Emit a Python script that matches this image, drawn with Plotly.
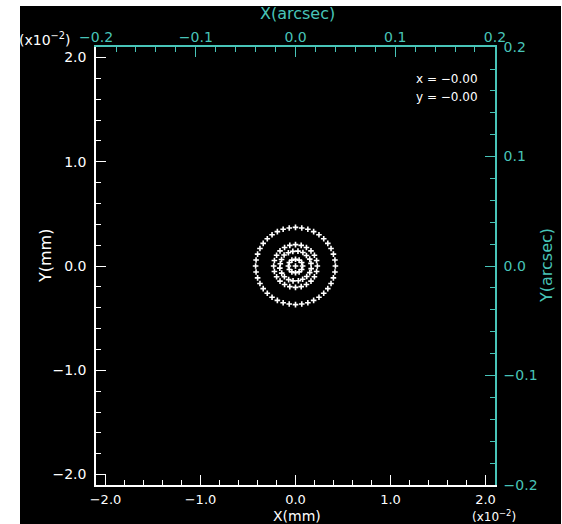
import plotly.graph_objects as go

# Spot diagram positions, in units of 1e-2 mm
outer_x = [0.420, 0.415, 0.399, 0.374, 0.340, 0.297, 0.247, 0.191, 0.130, 0.066,
           0.000, -0.066, -0.130, -0.191, -0.247, -0.297, -0.340, -0.374, -0.399, -0.415,
           -0.420, -0.415, -0.399, -0.374, -0.340, -0.297, -0.247, -0.191, -0.130, -0.066,
           0.000, 0.066, 0.130, 0.191, 0.247, 0.297, 0.340, 0.374, 0.399, 0.415]
outer_y = [0.000, 0.058, 0.114, 0.168, 0.217, 0.262, 0.299, 0.330, 0.352, 0.365,
           0.370, 0.365, 0.352, 0.330, 0.299, 0.262, 0.217, 0.168, 0.114, 0.058,
           0.000, -0.058, -0.114, -0.168, -0.217, -0.262, -0.299, -0.330, -0.352, -0.365,
           -0.370, -0.365, -0.352, -0.330, -0.299, -0.262, -0.217, -0.168, -0.114, -0.058]

mid_out_x = [0.230, 0.222, 0.199, 0.163, 0.115, 0.060,
             0.000, -0.060, -0.115, -0.163, -0.199, -0.222,
             -0.230, -0.222, -0.199, -0.163, -0.115, -0.060,
             0.000, 0.060, 0.115, 0.163, 0.199, 0.222]
mid_out_y = [0.000, 0.053, 0.103, 0.145, 0.178, 0.198,
             0.205, 0.198, 0.178, 0.145, 0.103, 0.053,
             0.000, -0.053, -0.103, -0.145, -0.178, -0.198,
             -0.205, -0.198, -0.178, -0.145, -0.103, -0.053]

mid_in_x = [0.163, 0.150, 0.115, 0.078, 0.026,
            -0.028, -0.075, -0.120, -0.147, -0.160,
            -0.165, -0.145, -0.117, -0.072, -0.026,
            0.030, 0.075, 0.118, 0.150, 0.165]
mid_in_y = [0.025, 0.066, 0.100, 0.130, 0.143,
            0.140, 0.127, 0.105, 0.063, 0.022,
            -0.020, -0.068, -0.103, -0.131, -0.143,
            -0.142, -0.127, -0.100, -0.064, -0.025]

inner_x = [0.075, 0.065, 0.038, 0.000, -0.038, -0.065, -0.075, -0.065, -0.038, 0.000, 0.038, 0.065]
inner_y = [0.000, 0.033, 0.056, 0.065, 0.056, 0.033, 0.000, -0.033, -0.056, -0.065, -0.056, -0.033]

center_x = [0.0]
center_y = [0.0]

mm_ticks = [-2.0, -1.0, 0.0, 1.0, 2.0]
arc_ticks = [-0.2, -0.1, 0.0, 0.1, 0.2]

WHITE = "#ffffff"
CYAN = "#48c4b8"
FONT = "DejaVu Sans"

xs = outer_x + mid_out_x + mid_in_x + inner_x + center_x
ys = outer_y + mid_out_y + mid_in_y + inner_y + center_y

fig = go.Figure()
fig.add_trace(go.Scatter(x=xs, y=ys, mode="markers",
                         marker=dict(symbol="cross-thin", size=4, color=WHITE,
                                     line=dict(width=1.6, color=WHITE)),
                         showlegend=False, hoverinfo="skip"))
fig.add_trace(go.Scatter(x=[0], y=[0], xaxis="x2", yaxis="y2", mode="markers",
                         marker=dict(opacity=0), showlegend=False, hoverinfo="skip"))

def axis_common(color, standoff):
    return dict(showgrid=False, zeroline=False, showline=True, linecolor=color, linewidth=1.5,
                ticks="inside", ticklen=10, tickwidth=1, tickcolor=color,
                ticklabelstandoff=standoff,
                tickfont=dict(family=FONT, size=14, color=color), tickformat=".1f")

xa = axis_common(WHITE, 2)
xa.update(range=[-2.1, 2.1], tickvals=mm_ticks, side="bottom",
          tickfont=dict(family=FONT, size=13, color=WHITE),
          minor=dict(dtick=0.2, tick0=0, ticks="inside", ticklen=5, tickcolor=WHITE))
ya = axis_common(WHITE, 5)
ya.update(range=[-2.1, 2.1], tickvals=mm_ticks, side="left",
          minor=dict(dtick=0.2, tick0=0, ticks="inside", ticklen=5, tickcolor=WHITE))
xa2 = axis_common(CYAN, -2)
xa2.update(range=[-0.2001, 0.2001], tickvals=arc_ticks, side="top", overlaying="x",
           minor=dict(dtick=0.02, tick0=0, ticks="inside", ticklen=5, tickcolor=CYAN))
ya2 = axis_common(CYAN, 4)
ya2.update(range=[-0.2001, 0.2001], tickvals=arc_ticks, side="right", overlaying="y",
           minor=dict(dtick=0.02, tick0=0, ticks="inside", ticklen=5, tickcolor=CYAN))

L, R, T, B = 96, 495, 47, 485
W, H = 562, 524
def px(xp):
    return (xp - L) / (R - L)
def py(yp):
    return (B - yp) / (B - T)

def ann(text, x, y, color, size=15, angle=0, xanchor="center"):
    return dict(text=text, x=px(x), y=py(y), xref="paper", yref="paper", showarrow=False,
                font=dict(family=FONT, size=size, color=color), textangle=angle,
                xanchor=xanchor, yanchor="middle")

annotations = [
    ann("X(arcsec)", 297, 14, CYAN, 16),
    ann("X(mm)", 297, 516, WHITE, 14),
    ann("Y(mm)", 46, 256, WHITE, 16, -90),
    ann("Y(arcsec)", 546, 266, CYAN, 16, -90),
    ann("(x10<sup>−2</sup>)", 44, 39, WHITE, 14),
    ann("(x10<sup>−2</sup>)", 494, 516, WHITE, 12),
    ann("x = −0.00", 480, 79, WHITE, 12, 0, "right"),
    ann("y = −0.00", 480, 97, WHITE, 12, 0, "right"),
]

fig.update_layout(
    width=W, height=H,
    margin=dict(l=L, r=W - R, t=T, b=H - B),
    paper_bgcolor="#ffffff", plot_bgcolor="#000000",
    xaxis=xa, yaxis=ya, xaxis2=xa2, yaxis2=ya2,
    annotations=annotations,
    shapes=[dict(type="rect", xref="paper", yref="paper", layer="below",
                 x0=px(20), x1=px(561), y0=py(524), y1=py(6),
                 fillcolor="#000000", line=dict(width=0))],
)

fig.write_html("out.html")
